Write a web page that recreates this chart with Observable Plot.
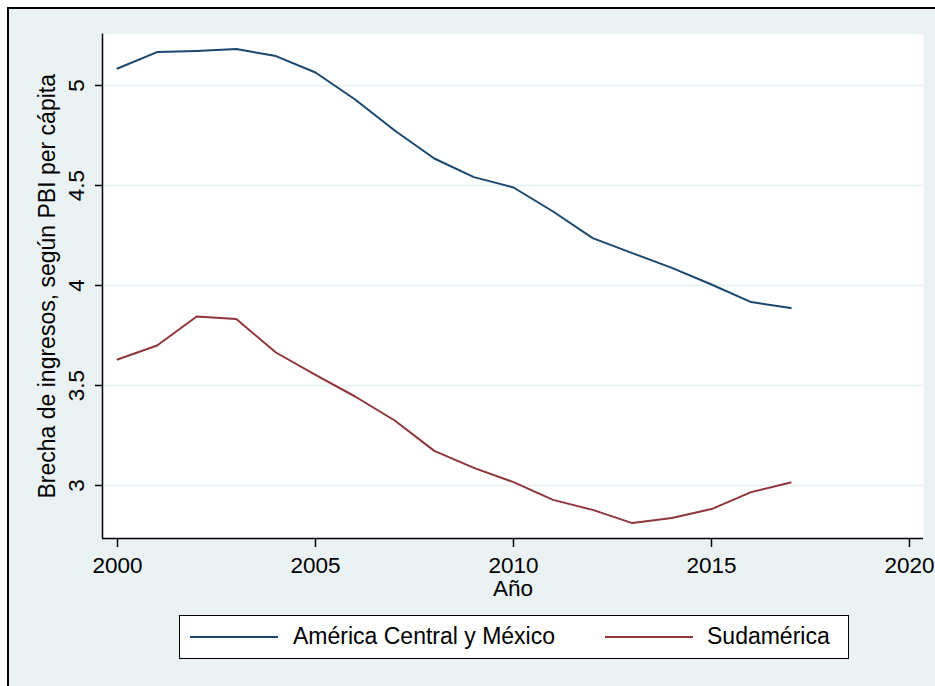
<!DOCTYPE html>
<html><head><meta charset="utf-8">
<script src="https://cdn.jsdelivr.net/npm/d3@7"></script>
<script src="https://cdn.jsdelivr.net/npm/@observablehq/plot@0.6"></script>
<style>
html,body{margin:0;padding:0;background:#fff;width:935px;height:686px;overflow:hidden;font-family:"Liberation Sans",Arial,sans-serif;}
#frame{position:absolute;left:7px;top:7px;width:940px;height:690px;border-top:2px solid #000;border-left:2px solid #000;background:#eaf2f3;}
#chart{position:absolute;left:0;top:0;}
#legend{position:absolute;left:170px;top:606px;width:670px;height:44px;box-sizing:border-box;border:1.5px solid #000;background:#fff;}
#legend .sw{position:absolute;top:20px;width:88px;height:0;border-top:2px solid;}
#legend .lb{position:absolute;top:0;height:41px;line-height:41px;font-size:23px;color:#000;white-space:nowrap;}
</style>
</head><body>
<div id="frame"><div id="chart"></div><div id="legend"></div></div>
<script>
const years = [2000,2001,2002,2003,2004,2005,2006,2007,2008,2009,2010,2011,2012,2013,2014,2015,2016,2017];
const centralMexico = [5.085,5.167,5.173,5.182,5.147,5.065,4.930,4.775,4.635,4.542,4.490,4.370,4.237,4.162,4.088,4.005,3.917,3.887];
const sudamerica = [3.630,3.700,3.845,3.832,3.665,3.553,3.445,3.325,3.173,3.088,3.017,2.928,2.878,2.812,2.837,2.882,2.967,3.015];
const seriesNames = ["América Central y México","Sudamérica"];
const seriesColors = ["#1a476f","#90353b"];
const xTicks = [2000,2005,2010,2015,2020];
const yTicks = [3,3.5,4,4.5,5];
const yTickLabels = ["3","3.5","4","4.5","5"];
const xTitle = "Año";
const yTitle = "Brecha de ingresos, según PBI per cápita";

const rows = [];
years.forEach((yr,i)=>{
  rows.push({year:yr, value:centralMexico[i], series:seriesNames[0]});
  rows.push({year:yr, value:sudamerica[i], series:seriesNames[1]});
});

const xDomain = [1999.621, 2020.354];
const yDomain = [2.735, 5.2575];
const font = "Liberation Sans, Arial, sans-serif";

const chart = Plot.plot({
  width: 926, height: 600,
  marginLeft: 93, marginRight: 12, marginTop: 24.5, marginBottom: 71,
  style: {background:"transparent", fontFamily:font, overflow:"visible", color:"#000"},
  x: {domain: xDomain},
  y: {domain: yDomain},
  color: {domain: seriesNames, range: seriesColors},
  marks: [
    Plot.frame({fill:"white", stroke:"none"}),
    Plot.gridY(yTicks, {stroke:"#eaf2f3", strokeOpacity:1, strokeWidth:2}),
    Plot.line(rows, {x:"year", y:"value", z:"series", stroke:"series", strokeWidth:2}),
    Plot.ruleX([xDomain[0]], {stroke:"#000", strokeWidth:1.5}),
    Plot.ruleY([yDomain[0]], {stroke:"#000", strokeWidth:1.5}),
    Plot.axisY(yTicks, {tickSize:7, tickFormat:()=>"", label:null, strokeWidth:1.5}),
    Plot.text(yTicks, {y:d=>d, text:(d,i)=>yTickLabels[i], frameAnchor:"left", textAnchor:"middle", dx:-26, rotate:-90, fontSize:22.5, fill:"#000"}),
    Plot.axisX(xTicks, {tickSize:9, tickPadding:10, tickFormat:d=>String(d), fontSize:22.5, label:null, strokeWidth:1.5}),
    Plot.text([xTitle], {frameAnchor:"bottom", textAnchor:"middle", dy:42, lineAnchor:"top", fontSize:22.5, fill:"#000"}),
    Plot.text([yTitle], {frameAnchor:"left", textAnchor:"middle", dx:-55, rotate:-90, fontSize:23, fill:"#000"})
  ]
});
document.getElementById("chart").appendChild(chart);

const legend = document.getElementById("legend");
const swLeft = [10, 425];
const lbLeft = [113, 527];
seriesNames.forEach((name,i)=>{
  const sw = document.createElement("div");
  sw.className = "sw";
  sw.style.left = swLeft[i] + "px";
  sw.style.borderTopColor = seriesColors[i];
  legend.appendChild(sw);
  const lb = document.createElement("div");
  lb.className = "lb";
  lb.style.left = lbLeft[i] + "px";
  lb.textContent = name;
  legend.appendChild(lb);
});
</script>
</body></html>
